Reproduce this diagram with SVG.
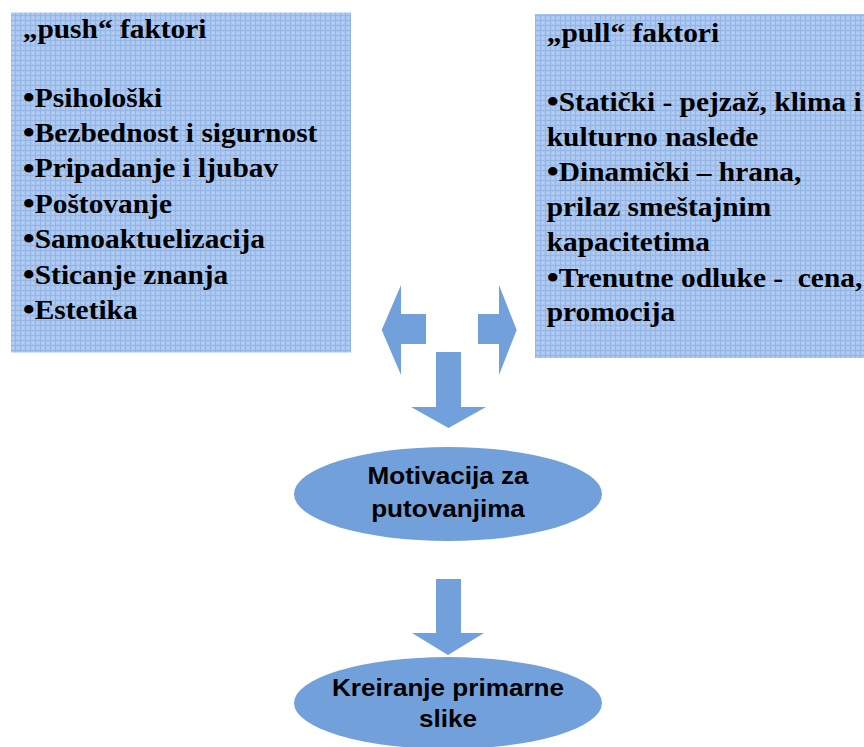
<svg xmlns="http://www.w3.org/2000/svg" width="864" height="747" viewBox="0 0 864 747">
  <style>
    .box { fill: url(#grid); }
    .list { font-family: "Liberation Serif", "Times New Roman", serif; font-weight: bold; font-size: 26.5px; fill: #000; }
    .dot { font-size: 31px; }
    .oval { fill: #72a0da; }
    .label { font-family: "Liberation Sans", Arial, sans-serif; font-weight: bold; font-size: 23px; fill: #000; text-anchor: middle; }
    .arrow { fill: #72a0da; }
  </style>
  <defs>
    <!-- small blue grid texture for the factor boxes -->
    <pattern id="grid" width="5" height="5" patternUnits="userSpaceOnUse">
      <rect width="5" height="5" fill="#aac6ef"/>
      <rect width="5" height="1" fill="#93b6e8"/>
      <rect width="1" height="5" fill="#93b6e8"/>
      <rect x="2" y="2" width="2" height="2" fill="#b4cdf1"/>
    </pattern>
  </defs>
  <rect width="864" height="747" fill="#fff"/>

  <g id="push">
    <rect class="box" x="11" y="12.5" width="340" height="340"/>
    <g class="list" transform="translate(22.7,0) scale(1.11,1)">
      <text x="0" y="38">„push“ faktori</text>
      <text x="0" y="107"><tspan class="dot" dy="1.5">•</tspan><tspan dy="-1.5">Psihološki</tspan></text>
      <text x="0" y="142"><tspan class="dot" dy="1.5">•</tspan><tspan dy="-1.5">Bezbednost i sigurnost</tspan></text>
      <text x="0" y="177.5"><tspan class="dot" dy="1.5">•</tspan><tspan dy="-1.5">Pripadanje i ljubav</tspan></text>
      <text x="0" y="213"><tspan class="dot" dy="1.5">•</tspan><tspan dy="-1.5">Poštovanje</tspan></text>
      <text x="0" y="248"><tspan class="dot" dy="1.5">•</tspan><tspan dy="-1.5">Samoaktuelizacija</tspan></text>
      <text x="0" y="284"><tspan class="dot" dy="1.5">•</tspan><tspan dy="-1.5">Sticanje znanja</tspan></text>
      <text x="0" y="319"><tspan class="dot" dy="1.5">•</tspan><tspan dy="-1.5">Estetika</tspan></text>
    </g>
  </g>

  <g id="pull">
    <rect class="box" x="535" y="14" width="329" height="344"/>
    <g class="list" transform="translate(546.7,0) scale(1.11,1)">
      <text x="0" y="42">„pull“ faktori</text>
      <text x="0" y="111"><tspan class="dot" dy="1.5">•</tspan><tspan dy="-1.5">Statički - pejzaž, klima i</tspan></text>
      <text x="0" y="146">kulturno nasleđe</text>
      <text x="0" y="181"><tspan class="dot" dy="1.5">•</tspan><tspan dy="-1.5">Dinamički – hrana,</tspan></text>
      <text x="0" y="216">prilaz smeštajnim</text>
      <text x="0" y="251">kapacitetima</text>
      <text x="0" y="287" xml:space="preserve"><tspan class="dot" dy="1.5">•</tspan><tspan dy="-1.5">Trenutne odluke -  cena,</tspan></text>
      <text x="0" y="321">promocija</text>
    </g>
  </g>

  <g id="motivacija">
    <ellipse class="oval" cx="448" cy="494" rx="154" ry="47"/>
    <g class="label" transform="translate(448,0) scale(1.135,1)">
      <text x="0" y="484">Motivacija za</text>
      <text x="0" y="517">putovanjima</text>
    </g>
  </g>

  <g id="primarna-slika">
    <ellipse class="oval" cx="448" cy="703" rx="154" ry="46"/>
    <g class="label" transform="translate(448,0) scale(1.135,1)">
      <text x="0" y="696">Kreiranje primarne</text>
      <text x="0" y="727">slike</text>
    </g>
  </g>

  <g id="connectors">
    <polygon class="arrow" points="381.7,330 401,285 401,314 426,314 426,344 401,344 401,375"/>
    <polygon class="arrow" points="516.7,330 499,285 499,314 478,314 478,344 499,344 499,375"/>
    <polygon class="arrow" points="436,352 461,352 461,407 486,407 448.5,428 411,407 436,407"/>
    <polygon class="arrow" points="436,579 461,579 461,633 484,633 448,655 412,633 436,633"/>
  </g>
</svg>
